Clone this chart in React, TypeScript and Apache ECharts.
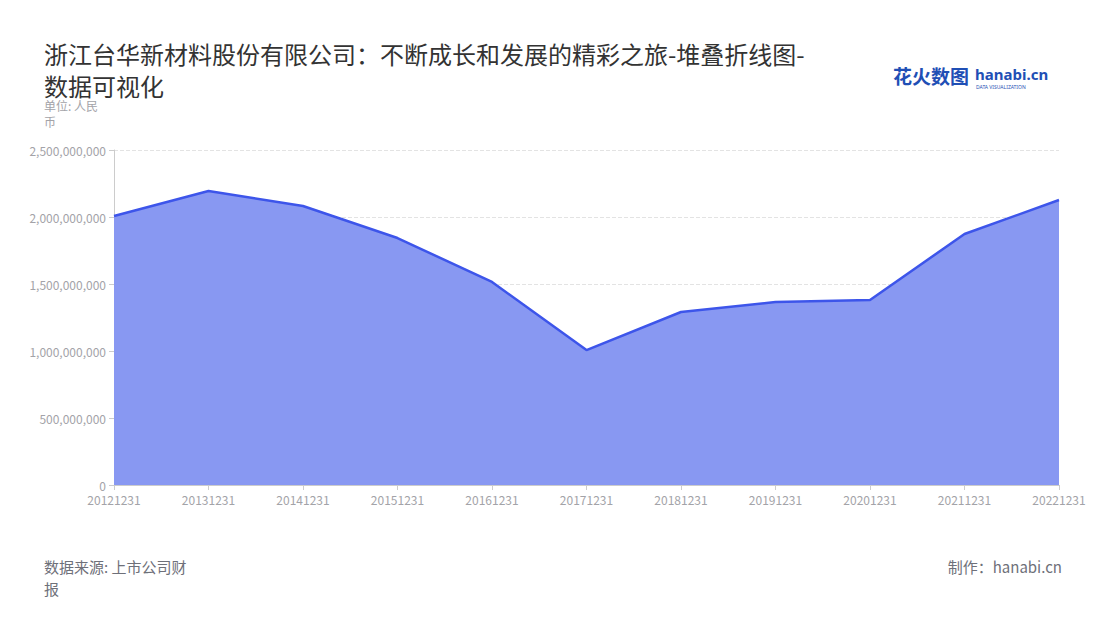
import React, { useEffect, useRef } from "react";
import * as echarts from "echarts";

const categories = ["20121231", "20131231", "20141231", "20151231", "20161231", "20171231", "20181231", "20191231", "20201231", "20211231", "20221231"];
const values = [2007000000, 2194000000, 2082000000, 1843000000, 1515000000, 1007000000, 1291000000, 1366000000, 1381000000, 1873000000, 2127000000];
const titleText = "浙江台华新材料股份有限公司：不断成长和发展的精彩之旅-堆叠折线图-数据可视化";
const unitText = "单位: 人民币";

export default function App() {
  const ref = useRef<HTMLDivElement>(null);
  useEffect(() => {
    const chart = echarts.init(ref.current!, null, { renderer: "svg" });
    chart.setOption({
      animation: false,
      title: {
        text: titleText,
        left: 31,
        top: 24,
        textStyle: { fontSize: 24, fontWeight: "normal", color: "#333", width: 772, overflow: "break", lineHeight: 32, fontFamily: "Noto Sans CJK SC" },
      },
      grid: { left: 106, right: 33, top: 142, bottom: 127 },
      xAxis: {
        type: "category",
        data: categories,
        boundaryGap: false,
        axisLine: { lineStyle: { color: "#ccc" } },
        axisTick: { show: true, lineStyle: { color: "#ccc" } },
        axisLabel: { color: "#a3a3a8", fontSize: 12, margin: 8, fontFamily: "Noto Sans CJK SC" },
      },
      yAxis: {
        type: "value",
        min: 0,
        max: 2500000000,
        interval: 500000000,
        axisLine: { show: true, lineStyle: { color: "#ccc" } },
        axisTick: { show: true, lineStyle: { color: "#ccc" } },
        splitLine: { lineStyle: { type: "dashed", color: "#e3e3e3" } },
        axisLabel: {
          color: "#a3a3a8",
          fontSize: 12,
          fontFamily: "Noto Sans CJK SC",
          formatter: (v: number) => v.toLocaleString("en-US"),
        },
      },
      series: [
        {
          type: "line",
          data: values,
          symbol: "none",
          lineStyle: { color: "#3d55ea", width: 2.5 },
          areaStyle: { color: "#8898f2", opacity: 1 },
          itemStyle: { color: "#3d55ea" },
        },
      ],
      graphic: [
        {
          type: "text",
          left: 36,
          top: 89,
          style: { text: unitText, width: 70, overflow: "break", lineHeight: 16, fontSize: 12, fill: "#a3a3a8", fontFamily: "Noto Sans CJK SC" },
        },
        {
          type: "text",
          left: 36,
          top: 547,
          style: { text: "数据来源: 上市公司财报", width: 160, overflow: "break", lineHeight: 22, fontSize: 15, fill: "#6e7079", fontFamily: "Noto Sans CJK SC" },
        },
        {
          type: "text",
          right: 30,
          top: 551,
          style: { text: "制作：hanabi.cn", fontSize: 15, fill: "#6e7079", fontFamily: "Noto Sans CJK SC" },
        },
        {
          type: "text",
          left: 885,
          top: 58,
          style: { text: "花火数图", fontSize: 19, fontWeight: "bold", fill: "#1f4fb5", fontFamily: "Noto Sans CJK SC" },
        },
        {
          type: "text",
          left: 967,
          top: 58,
          style: { text: "hanabi.cn", fontSize: 15, fontWeight: "bold", fill: "#1f4fb5", fontFamily: "Noto Sans" },
        },
        {
          type: "text",
          left: 968,
          top: 76,
          style: { text: "DATA VISUALIZATION", fontSize: 5, fill: "#1f4fb5", fontFamily: "Noto Sans" },
        },
      ],
    });
    return () => chart.dispose();
  }, []);
  return <div ref={ref} style={{ width: 1084, height: 604 }} />;
}
